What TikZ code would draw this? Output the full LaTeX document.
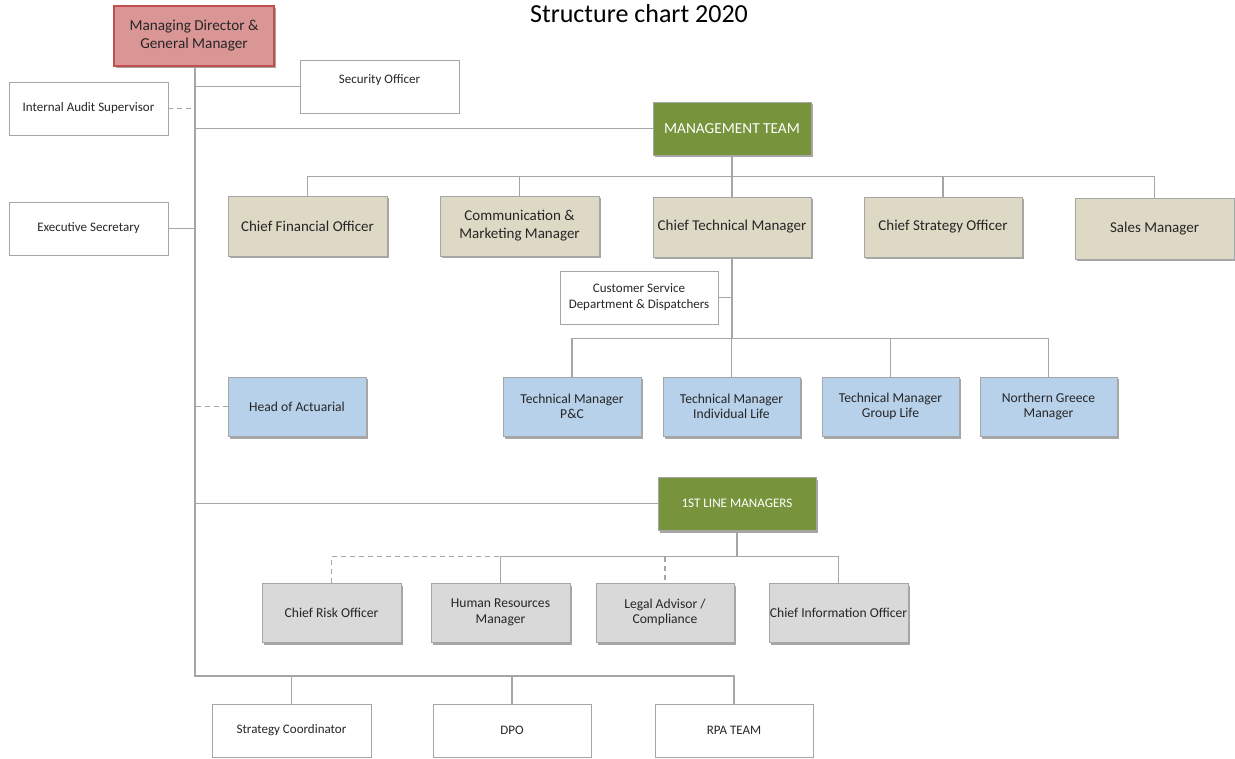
\documentclass[tikz,border=0pt]{standalone}
\usepackage{fontspec}
\setmainfont{Carlito}
\usetikzlibrary{shadows}
\definecolor{lg}{HTML}{A6A6A6}
\definecolor{bordgray}{HTML}{A6A6A6}
\definecolor{pinkfill}{HTML}{DA9694}
\definecolor{redborder}{HTML}{C0504D}
\definecolor{greenfill}{HTML}{77933C}
\definecolor{tanfill}{HTML}{DDD9C4}
\definecolor{bluefill}{HTML}{B7D1EA}
\definecolor{grayfill}{HTML}{D9D9D9}
\definecolor{txt}{HTML}{262626}
\tikzset{
  conn/.style={draw=lg, line width=1.5pt},
  dconn/.style={draw=lg, line width=1.5pt, dash pattern=on 5pt off 4pt},
  base/.style={rectangle, align=center, inner sep=0pt, text=txt},
  shad/.style={drop shadow={shadow xshift=1.5pt, shadow yshift=-2.5pt, opacity=0.35, fill=black}},
  wbox/.style={base, draw=bordgray, line width=0.9pt, fill=white, minimum width=159pt, minimum height=53pt, font=\fontsize{13}{16}\selectfont},
  mdbox/.style={base, shad, draw=redborder, line width=1.5pt, fill=pinkfill, minimum width=160pt, minimum height=60pt, font=\fontsize{15.2}{18}\selectfont},
  gbox/.style={base, shad, draw=bordgray, line width=0.9pt, fill=greenfill, minimum width=158pt, minimum height=53pt, text=white},
  tbox/.style={base, shad, draw=bordgray, line width=0.9pt, fill=tanfill, minimum width=159pt, minimum height=60pt, font=\fontsize{15}{18}\selectfont},
  bbox/.style={base, shad, draw=bordgray, line width=0.9pt, fill=bluefill, minimum width=138pt, minimum height=59pt, font=\fontsize{13.6}{15.5}\selectfont},
  gybox/.style={base, shad, draw=bordgray, line width=0.9pt, fill=grayfill, minimum width=139pt, minimum height=59pt, font=\fontsize{13.6}{15.5}\selectfont},
}
\begin{document}
\begin{tikzpicture}[x=1pt,y=-1pt]
\useasboundingbox[fill=white] (0,0) rectangle (1235,759);

\node[font=\fontsize{26}{30}\selectfont, text=black] (title) at (639,14) {Structure chart 2020};

% top level
\node[mdbox] (md) at (194,36) {Managing Director \&\\General Manager};
\node[wbox] (sec) at (379.5,86.5) {\raisebox{15pt}{Security Officer}};
\node[wbox] (ias) at (88.5,108.5) {Internal Audit Supervisor};
\node[wbox] (exec) at (88.5,228.5) {Executive Secretary};

% management team
\node[gbox, font=\fontsize{15.3}{18}\selectfont] (mt) at (732,128.5) {MANAGEMENT TEAM};
\node[tbox] (cfo) at (307.5,226) {Chief Financial Officer};
\node[tbox] (comm) at (519.5,226) {Communication \&\\Marketing Manager};
\node[tbox, minimum width=158pt] (ctm) at (732,227) {Chief Technical Manager};
\node[tbox, minimum width=158pt] (cso) at (943,227) {Chief Strategy Officer};
\node[tbox, minimum height=61pt] (sales) at (1154.5,228.5) {Sales Manager};

% technical
\node[wbox, minimum width=158pt] (cs) at (639,297.5) {Customer Service\\Department \& Dispatchers};
\node[bbox] (tmpc) at (572,406.5) {Technical Manager\\P\&C};
\node[bbox, minimum width=137pt] (tmil) at (731.5,406.5) {Technical Manager\\Individual Life};
\node[bbox, minimum width=137pt] (tmgl) at (890.5,406.5) {Technical Manager\\Group Life};
\node[bbox, minimum width=137pt] (ng) at (1048.5,406.5) {Northern Greece\\Manager};
\node[bbox] (act) at (297,406.5) {Head of Actuarial};

% first line managers
\node[gbox, font=\fontsize{13.1}{16}\selectfont] (flm) at (737,503.5) {1ST LINE MANAGERS};
\node[gybox] (cro) at (331.5,612.5) {Chief Risk Officer};
\node[gybox] (hr) at (500.5,612.5) {Human Resources\\Manager};
\node[gybox, minimum width=138pt] (legal) at (665,612.5) {Legal Advisor /\\Compliance};
\node[gybox] (cio) at (838.5,612.5) {Chief Information Officer};

% bottom
\node[wbox] (sc) at (291.5,730.5) {Strategy Coordinator};
\node[wbox, minimum width=158pt] (dpo) at (512,730.5) {DPO};
\node[wbox, minimum width=158pt] (rpa) at (734,730.5) {RPA TEAM};

% connectors: spine
\coordinate (bot) at (195,676);
\draw[conn] (md.south -| bot) -- (bot) -- (bot -| rpa.north) -- (rpa.north);
\draw[conn] (sc.north) -- (sc.north |- bot);
\draw[conn] (dpo.north) -- (dpo.north |- bot);
\draw[conn] (sec.west) -- (sec.west -| bot);
\draw[dconn] (ias.east) -- (ias.east -| bot);
\draw[conn] (exec.east) -- (exec.east -| bot);
\draw[conn] (mt.west) -- (mt.west -| bot);
\draw[dconn] (act.west) -- (act.west -| bot);
\draw[conn] (flm.west) -- (flm.west -| bot);

% management team bus
\draw[conn] (mt.south) -- ++(0,21) coordinate (mtb);
\draw[conn] (cfo.north) |- (mtb);
\draw[conn] (comm.north) |- (mtb);
\draw[conn] (ctm.north) -- (mtb);
\draw[conn] (cso.north) |- (mtb);
\draw[conn] (sales.north) |- (mtb);

% technical bus
\draw[conn] (ctm.south) -- ++(0,81) coordinate (ctb);
\draw[conn] (cs.east) -- (cs.east -| ctm.south);
\draw[conn] (tmpc.north) |- (ctb);
\draw[conn] (tmil.north) -- (tmil.north |- ctb);
\draw[conn] (tmgl.north) |- (ctb);
\draw[conn] (ng.north) |- (ctb);

% first line bus
\draw[conn] (flm.south) -- ++(0,26) coordinate (flb);
\draw[dconn] (cro.north) |- (legal.north |- flb) -- (legal.north);
\draw[conn] (hr.north) |- (flb);
\draw[conn] (cio.north) |- (flb);
\end{tikzpicture}
\end{document}
